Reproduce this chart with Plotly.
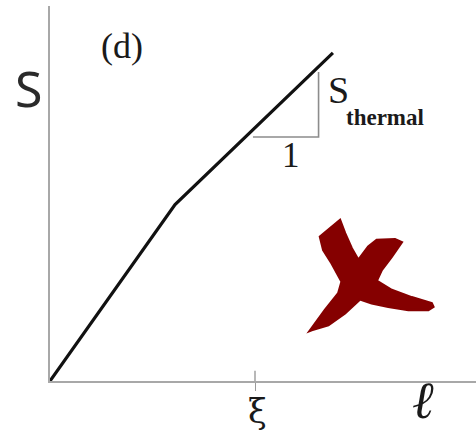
import plotly.graph_objects as go

# Entropy S versus subsystem size l (length unit: xi)
l_vals = [0.0, 0.61, 1.38]
S_vals = [0.0, 0.86, 1.60]

# slope triangle: run of 1 and rise s_thermal
tri_l = [0.99, 1.31, 1.31]
tri_S = [1.19, 1.19, 1.507]

xi_tick = [1.0]
x_max = 2.078
y_max = 1.829

fig = go.Figure()
fig.add_trace(go.Scatter(x=l_vals, y=S_vals, mode="lines",
                         line=dict(color="#111111", width=3.2),
                         hoverinfo="skip"))
fig.add_trace(go.Scatter(x=tri_l, y=tri_S, mode="lines",
                         line=dict(color="#8c8c8c", width=1.6),
                         hoverinfo="skip"))

# inner part of the xi tick mark
fig.add_shape(type="line", x0=xi_tick[0], x1=xi_tick[0], y0=0, y1=0.05,
              xref="x", yref="y", line=dict(color="#9a9a9a", width=1.4))

# red brush-stroke cross (paper coords built from a pixel outline)
W, H, L0, B0 = 426.0, 375.0, 50.0, 381.0
cross = [(320, 236.7), (340, 220), (345, 233.3), (351.7, 248.3), (358.3, 260),
         (368.3, 246.7), (376.7, 240), (395, 239.3), (401.7, 242.3),
         (391.7, 256.7), (381.7, 270), (376.7, 280.7), (391.7, 290),
         (411.7, 297.3), (431.7, 303.3), (433.3, 306.7), (428.3, 310),
         (408.3, 310), (388.3, 306.7), (371.7, 303.3), (360, 299.3),
         (345, 313.3), (328.3, 325), (311.7, 330), (310, 330.7), (325, 310),
         (338.3, 293.3), (341.7, 281.7), (331.7, 263.3), (323.3, 250)]
pts = [((px - L0) / W, (B0 - py) / H) for px, py in cross]
path = "M " + " L ".join(f"{x:.4f},{y:.4f}" for x, y in pts) + " Z"
fig.add_shape(type="path", path=path, xref="paper", yref="paper",
              fillcolor="#850000", line=dict(color="#850000", width=2.5))

def ann(text, px, py, size, family, color="#1a1a1a"):
    fig.add_annotation(text=text, x=(px - L0) / W, y=(B0 - py) / H,
                       xref="paper", yref="paper", showarrow=False,
                       xanchor="center", yanchor="middle",
                       font=dict(size=size, family=family, color=color))

ann("S", 28, 88, 50, "Noto Sans", "#2a2a2a")
ann("(d)", 122, 46, 36, "Liberation Serif")
ann("S", 338, 90, 38, "Liberation Serif")
ann("<b>thermal</b>", 385, 117, 23, "Liberation Serif")
ann("1", 291, 155, 35, "Liberation Serif")
ann("ξ", 257, 411, 34, "DejaVu Serif")
ann("<i>ℓ</i>", 423, 400, 52, "DejaVu Serif")

fig.update_layout(
    width=476, height=433,
    margin=dict(l=50, r=0, t=6, b=52),
    paper_bgcolor="white", plot_bgcolor="white",
    showlegend=False,
    xaxis=dict(range=[0, x_max], showgrid=False, zeroline=False,
               showline=True, linecolor="#a8a8a8", linewidth=1.6,
               tickvals=xi_tick, ticks="outside", ticklen=8,
               tickcolor="#9a9a9a", tickwidth=1.4, showticklabels=False),
    yaxis=dict(range=[0, y_max], showgrid=False, zeroline=False,
               showline=True, linecolor="#a8a8a8", linewidth=1.6,
               showticklabels=False, ticks=""),
)

fig.write_html("out.html")
